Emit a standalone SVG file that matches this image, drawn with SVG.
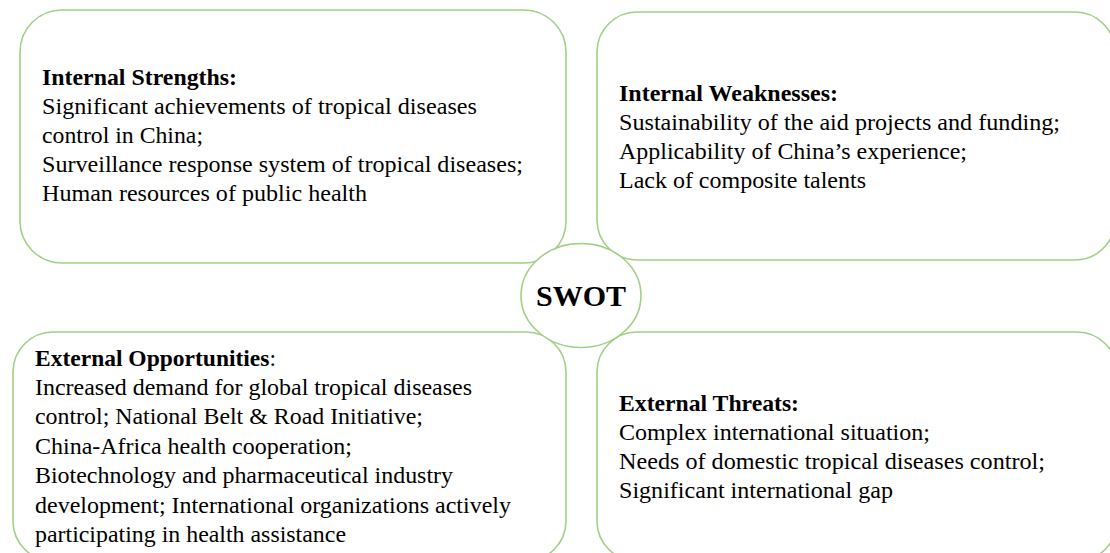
<svg xmlns="http://www.w3.org/2000/svg" width="1110" height="553" viewBox="0 0 1110 553">
<style>
.box{fill:#ffffff;stroke:#a3cf86;stroke-width:1.6}
.t{font-family:"Liberation Serif","Times New Roman",serif;font-size:22.5px;fill:#000}
.b{font-weight:bold}
.c{font-family:"Liberation Serif","Times New Roman",serif;font-size:30px;font-weight:bold;fill:#000}
</style>
<rect width="1110" height="553" fill="#ffffff"/>
<g id="strengths">
<rect class="box" x="20" y="10" width="546" height="253" rx="42" ry="42"/>
<text class="t b" x="42" y="85" textLength="195" lengthAdjust="spacingAndGlyphs">Internal Strengths:</text>
<text class="t" x="42" y="114" textLength="435" lengthAdjust="spacingAndGlyphs">Significant achievements of tropical diseases</text>
<text class="t" x="42" y="143" textLength="161" lengthAdjust="spacingAndGlyphs">control in China;</text>
<text class="t" x="42" y="172" textLength="481" lengthAdjust="spacingAndGlyphs">Surveillance response system of tropical diseases;</text>
<text class="t" x="42" y="201" textLength="325" lengthAdjust="spacingAndGlyphs">Human resources of public health</text>
</g>
<g id="weaknesses">
<rect class="box" x="597" y="12" width="518" height="248" rx="40" ry="40"/>
<text class="t b" x="619" y="101" textLength="219" lengthAdjust="spacingAndGlyphs">Internal Weaknesses:</text>
<text class="t" x="619" y="130" textLength="441" lengthAdjust="spacingAndGlyphs">Sustainability of the aid projects and funding;</text>
<text class="t" x="619" y="159" textLength="348" lengthAdjust="spacingAndGlyphs">Applicability of China’s experience;</text>
<text class="t" x="619" y="188" textLength="247" lengthAdjust="spacingAndGlyphs">Lack of composite talents</text>
</g>
<g id="opportunities">
<rect class="box" x="13" y="332" width="553" height="229" rx="40" ry="40"/>
<text class="t" x="35" y="366" textLength="241" lengthAdjust="spacingAndGlyphs"><tspan class="b">External Opportunities</tspan>:</text>
<text class="t" x="35" y="395" textLength="437" lengthAdjust="spacingAndGlyphs">Increased demand for global tropical diseases</text>
<text class="t" x="35" y="424" textLength="388" lengthAdjust="spacingAndGlyphs">control; National Belt &amp; Road Initiative;</text>
<text class="t" x="35" y="454" textLength="317" lengthAdjust="spacingAndGlyphs">China-Africa health cooperation;</text>
<text class="t" x="35" y="483" textLength="418" lengthAdjust="spacingAndGlyphs">Biotechnology and pharmaceutical industry</text>
<text class="t" x="35" y="513" textLength="476" lengthAdjust="spacingAndGlyphs">development; International organizations actively</text>
<text class="t" x="35" y="542" textLength="311" lengthAdjust="spacingAndGlyphs">participating in health assistance</text>
</g>
<g id="threats">
<rect class="box" x="597" y="332" width="520" height="229" rx="40" ry="40"/>
<text class="t b" x="619" y="411" textLength="180" lengthAdjust="spacingAndGlyphs">External Threats:</text>
<text class="t" x="619" y="440" textLength="311" lengthAdjust="spacingAndGlyphs">Complex international situation;</text>
<text class="t" x="619" y="469" textLength="426" lengthAdjust="spacingAndGlyphs">Needs of domestic tropical diseases control;</text>
<text class="t" x="619" y="498" textLength="274" lengthAdjust="spacingAndGlyphs">Significant international gap</text>
</g>
<g id="swot">
<ellipse class="box" cx="581" cy="295.5" rx="60" ry="52"/>
<text class="c" x="581" y="306" text-anchor="middle">SWOT</text>
</g>
<g id="connectors"/>
</svg>
